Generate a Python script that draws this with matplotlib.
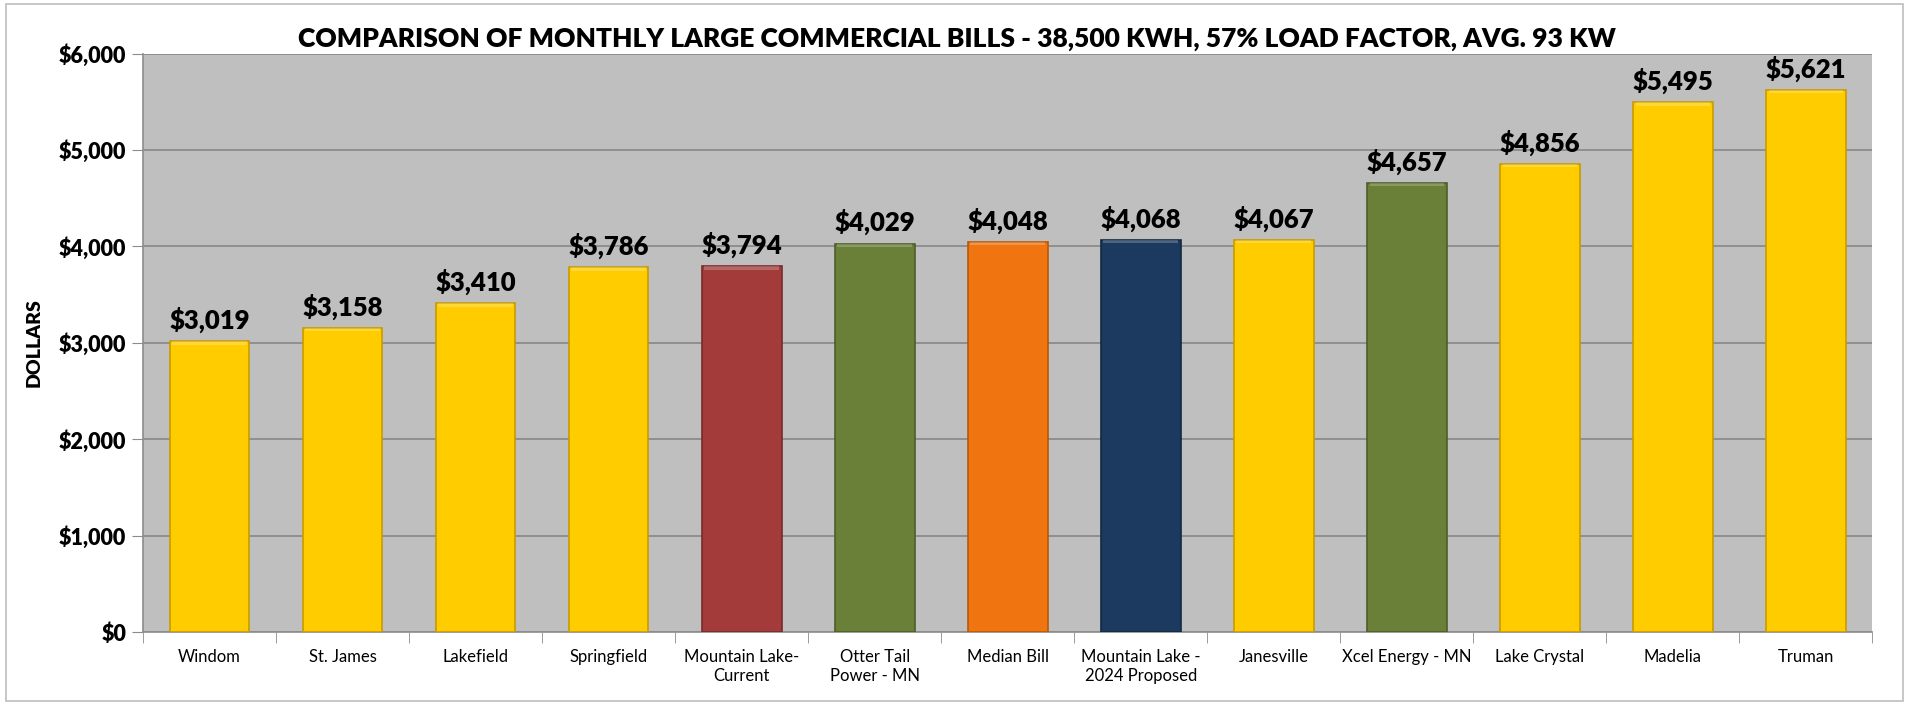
import matplotlib.pyplot as plt
import numpy as np
from matplotlib.patches import Rectangle

# chart data
cities = ["Windom", "St. James", "Lakefield", "Springfield", "Mountain Lake-\nCurrent",
          "Otter Tail\nPower - MN", "Median Bill", "Mountain Lake -\n2024 Proposed",
          "Janesville", "Xcel Energy - MN", "Lake Crystal", "Madelia", "Truman"]
bills = [3019, 3158, 3410, 3786, 3794, 4029, 4048, 4068, 4067, 4657, 4856, 5495, 5621]
bar_colors = ["#FFCC00", "#FFCC00", "#FFCC00", "#FFCC00", "#A33B3B", "#6A7F37", "#F07510",
              "#1C3A60", "#FFCC00", "#6A7F37", "#FFCC00", "#FFCC00", "#FFCC00"]
edge_colors = ["#C89B00", "#C89B00", "#C89B00", "#C89B00", "#7A2A2A", "#4E5E28", "#B85808",
               "#132840", "#C89B00", "#4E5E28", "#C89B00", "#C89B00", "#C89B00"]
yticks = [0, 1000, 2000, 3000, 4000, 5000, 6000]

plt.rcParams['font.family'] = ['Lato', 'DejaVu Sans']

fig = plt.figure(figsize=(19.11, 7.04), dpi=100)
fig.patches.append(Rectangle((0.003, 0.004), 0.993, 0.99, transform=fig.transFigure,
                             fill=False, edgecolor="#BDBDBD", linewidth=1.2))
ax = fig.add_axes([0.0748, 0.1016, 0.905, 0.8224])
ax.set_facecolor("#BFBFBF")

x = np.arange(len(cities))
bars = ax.bar(x, bills, width=0.6, color=bar_colors, edgecolor=edge_colors, linewidth=1.2, zorder=3)

# light bevel strip along the top of each bar
for xi, v in zip(x, bills):
    ax.bar(xi, 35, bottom=v - 35, width=0.56, color="white", alpha=0.22, linewidth=0, zorder=4)

for xi, v in zip(x, bills):
    ax.text(xi, v + 85, "${:,}".format(v), ha="center", va="bottom",
            fontsize=18.5, fontweight="heavy", color="black")

ax.set_xlim(-0.5, len(cities) - 0.5)
ax.set_ylim(0, 6000)
ax.set_yticks(yticks)
ax.set_yticklabels(["${:,}".format(t) for t in yticks], fontsize=15.5, fontweight="heavy")
ax.yaxis.grid(True, color="#8C8C8C", linewidth=1.3, zorder=0)
ax.set_axisbelow(True)

ax.set_xticks(x)
ax.set_xticklabels(cities, fontsize=12)
ax.set_xticks(np.arange(-0.5, len(cities)), minor=True)
ax.tick_params(axis="x", which="major", length=0, pad=12)
ax.tick_params(axis="x", which="minor", length=8, color="#8C8C8C", direction="out")
ax.tick_params(axis="y", length=8, color="#8C8C8C", pad=4)

for s in ["top", "right"]:
    ax.spines[s].set_visible(False)
ax.spines["left"].set_color("#8C8C8C")
ax.spines["bottom"].set_color("#8C8C8C")
ax.spines["left"].set_linewidth(1.2)
ax.spines["bottom"].set_linewidth(1.2)

ax.set_ylabel("DOLLARS", fontsize=14, fontweight="heavy", labelpad=12)
fig.text(0.501, 0.945, "COMPARISON OF MONTHLY LARGE COMMERCIAL BILLS - 38,500 KWH, 57% LOAD FACTOR, AVG. 93 KW",
         ha="center", va="center", fontsize=19, fontweight="heavy")

fig.savefig("out.png", dpi=100)
